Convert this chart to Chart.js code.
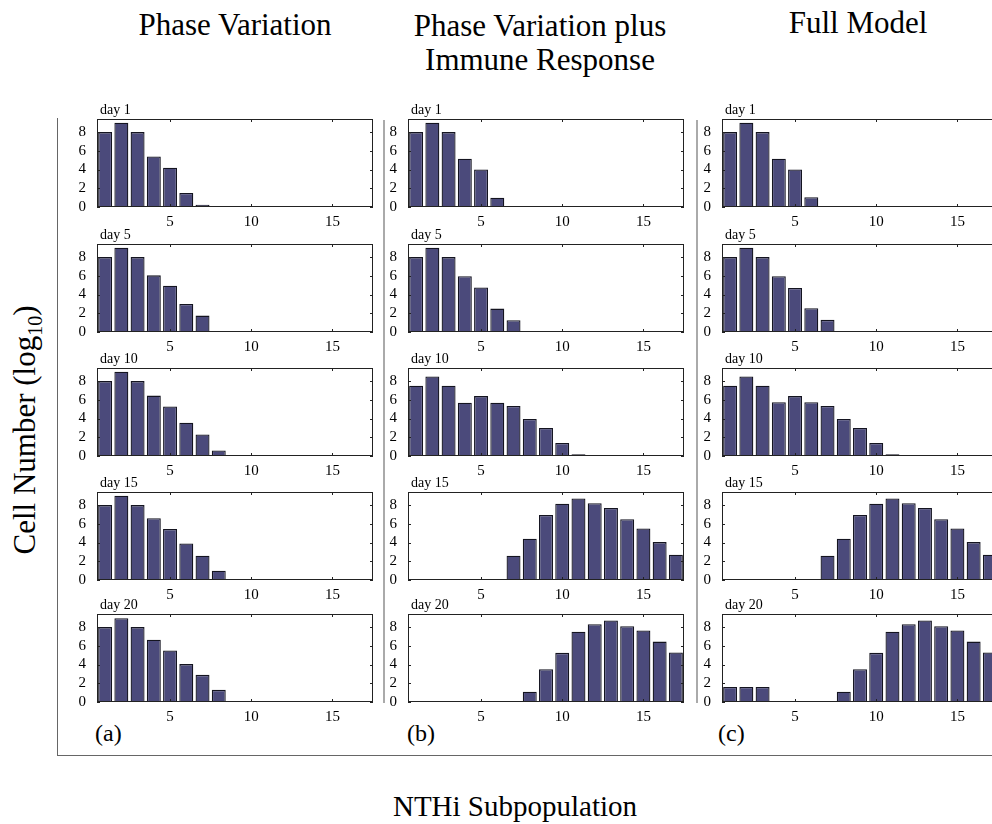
<!DOCTYPE html>
<html>
<head>
<meta charset="utf-8">
<script src="https://cdn.jsdelivr.net/npm/chart.js@4"></script>
<style>
  html, body { margin: 0; padding: 0; background: #fff; overflow: hidden; }
  body { width: 992px; height: 824px; position: relative; font-family: "Liberation Serif", "DejaVu Serif", serif; color: #000; }
  .txt { position: absolute; white-space: nowrap; transform: translateX(-50%); text-align: center; }
  .title { font-size: 31px; line-height: 34px; }
  .tag { position: absolute; font-size: 24px; line-height: 24px; }
  .line { position: absolute; }
  canvas { position: absolute; }
</style>
</head>
<body>
<div class="txt title" style="left:235px; top:8px;">Phase Variation</div>
<div class="txt title" style="left:540px; top:9px;">Phase Variation plus<br>Immune Response</div>
<div class="txt title" style="left:858px; top:6px;">Full Model</div>
<div class="txt title" style="left:515px; top:789px; font-size:29px;">NTHi Subpopulation</div>
<div class="title" style="position:absolute; left:30px; top:430px; white-space:nowrap; transform:translate(-50%,-50%) rotate(-90deg);">Cell Number (log<sub style="font-size:20px;">10</sub>)</div>

<div class="tag" style="left:95px; top:721px;">(a)</div>
<div class="tag" style="left:407px; top:721px;">(b)</div>
<div class="tag" style="left:718px; top:721px;">(c)</div>

<div class="line" style="left:57px; top:118px; width:0; height:637px; border-left:1.5px solid #666;"></div>
<div class="line" style="left:57px; top:755px; width:940px; height:0; border-top:1.5px solid #666;"></div>
<div class="line" style="left:383px; top:120px; width:0; height:583px; border-left:2px solid #aaa;"></div>
<div class="line" style="left:696px; top:120px; width:0; height:583px; border-left:2px solid #aaa;"></div>

<script>
var categories = [1, 2, 3, 4, 5, 6, 7, 8, 9, 10, 11, 12, 13, 14, 15, 16, 17];
var xTickLabels = [5, 10, 15];
var yTickLabels = [0, 2, 4, 6, 8];
var dayLabels = ['day 1', 'day 5', 'day 10', 'day 15', 'day 20'];

// (a) phase variation
var pvDay1  = [8.0, 9.0, 8.0, 5.4, 4.2, 1.5, 0.25, 0, 0, 0, 0, 0, 0, 0, 0, 0, 0];
var pvDay5  = [8.0, 9.0, 8.0, 6.05, 4.95, 3.0, 1.75, 0, 0, 0, 0, 0, 0, 0, 0, 0, 0];
var pvDay10 = [8.0, 9.0, 8.0, 6.45, 5.3, 3.55, 2.3, 0.6, 0, 0, 0, 0, 0, 0, 0, 0, 0];
var pvDay15 = [8.0, 9.0, 8.0, 6.6, 5.45, 3.9, 2.6, 1.0, 0, 0, 0, 0, 0, 0, 0, 0, 0];
var pvDay20 = [8.0, 8.95, 8.0, 6.65, 5.5, 4.05, 2.9, 1.3, 0.07, 0, 0, 0, 0, 0, 0, 0, 0];

// (b) phase variation plus immune response
var imDay1  = [8.0, 9.0, 8.0, 5.15, 4.0, 1.0, 0, 0, 0, 0, 0, 0, 0, 0, 0, 0, 0];
var imDay5  = [8.0, 9.0, 8.0, 5.95, 4.75, 2.5, 1.25, 0, 0, 0, 0, 0, 0, 0, 0, 0, 0];
var imDay10 = [7.5, 8.5, 7.5, 5.7, 6.4, 5.7, 5.35, 3.95, 3.0, 1.4, 0.18, 0, 0, 0, 0, 0, 0];
var imDay15 = [0, 0, 0, 0, 0, 0, 2.6, 4.4, 6.95, 8.15, 8.7, 8.2, 7.7, 6.5, 5.5, 4.05, 2.7];
var imDay20 = [0, 0, 0, 0, 0, 0, 0, 1.1, 3.5, 5.25, 7.5, 8.3, 8.7, 8.1, 7.65, 6.45, 5.3];

// (c) full model
var fmDay1  = [8.0, 9.0, 8.0, 5.15, 4.0, 1.05, 0, 0, 0, 0, 0, 0, 0, 0, 0, 0, 0];
var fmDay5  = [8.0, 9.0, 8.0, 5.95, 4.7, 2.55, 1.3, 0, 0, 0, 0, 0, 0, 0, 0, 0, 0];
var fmDay10 = [7.5, 8.5, 7.5, 5.75, 6.4, 5.75, 5.35, 3.95, 3.0, 1.4, 0.2, 0, 0, 0, 0, 0, 0];
var fmDay15 = [0, 0, 0, 0, 0, 0, 2.6, 4.4, 6.95, 8.15, 8.7, 8.2, 7.7, 6.5, 5.5, 4.05, 2.7];
var fmDay20 = [1.6, 1.6, 1.6, 0, 0, 0, 0, 1.1, 3.5, 5.25, 7.5, 8.3, 8.7, 8.1, 7.65, 6.45, 5.3];

var columns = [
  [pvDay1, pvDay5, pvDay10, pvDay15, pvDay20],
  [imDay1, imDay5, imDay10, imDay15, imDay20],
  [fmDay1, fmDay5, fmDay10, fmDay15, fmDay20]
];

var yMax = 9.4;
var colLeft = [97, 408, 722];
var rowTop = [119, 244, 368, 492, 614];
var plotW = 276, plotH = 88;
var axisW = 30, axisH = 26, padTop = 18, padRight = 3;
var serif = '"Liberation Serif", "DejaVu Serif", serif';

var frameTicks = {
  id: 'frameTicks',
  afterDraw: function (chart, args, opts) {
    var ctx = chart.ctx, a = chart.chartArea, x = chart.scales.x, y = chart.scales.y;
    ctx.save();
    ctx.strokeStyle = '#222';
    ctx.lineWidth = 1;
    ctx.strokeRect(a.left + 0.5, a.top + 0.5, a.right - a.left - 1, a.bottom - a.top - 1);
    ctx.beginPath();
    xTickLabels.forEach(function (t) {
      var px = Math.round(x.getPixelForValue(categories.indexOf(t))) + 0.5;
      ctx.moveTo(px, a.top); ctx.lineTo(px, a.top + 3);
      ctx.moveTo(px, a.bottom); ctx.lineTo(px, a.bottom - 3);
    });
    yTickLabels.forEach(function (t) {
      var py = Math.round(y.getPixelForValue(t)) + 0.5;
      ctx.moveTo(a.left, py); ctx.lineTo(a.left + 3, py);
      ctx.moveTo(a.right, py); ctx.lineTo(a.right - 3, py);
    });
    ctx.stroke();
    ctx.fillStyle = '#000';
    ctx.font = '14px ' + serif;
    ctx.textBaseline = 'alphabetic';
    ctx.fillText(opts.label, a.left + 3, a.top - 5);
    ctx.restore();
  }
};

function makePanel(col, row) {
  var c = document.createElement('canvas');
  var w = axisW + plotW + padRight, h = padTop + plotH + axisH;
  c.width = w; c.height = h;
  c.style.left = (colLeft[col] - axisW) + 'px';
  c.style.top = (rowTop[row] - padTop) + 'px';
  c.style.width = w + 'px'; c.style.height = h + 'px';
  document.body.appendChild(c);

  new Chart(c.getContext('2d'), {
    type: 'bar',
    data: {
      labels: categories,
      datasets: [{
        data: columns[col][row],
        backgroundColor: '#4b4a7b',
        borderColor: '#141420',
        borderWidth: 1.3,
        barPercentage: 0.86,
        categoryPercentage: 1
      }]
    },
    options: {
      responsive: false,
      animation: false,
      devicePixelRatio: 1,
      layout: { padding: { top: padTop, right: padRight, left: 0, bottom: 0 } },
      plugins: { legend: { display: false }, tooltip: { enabled: false }, frameTicks: { label: dayLabels[row] } },
      scales: {
        x: {
          grid: { display: false }, border: { display: false },
          ticks: {
            autoSkip: false, maxRotation: 0, padding: -2, color: '#000', font: { family: serif, size: 15 },
            callback: function (v, i) { var cat = categories[i]; return xTickLabels.indexOf(cat) >= 0 ? String(cat) : null; }
          },
          afterFit: function (s) { s.height = axisH; }
        },
        y: {
          min: 0, max: yMax,
          grid: { display: false }, border: { display: false },
          afterBuildTicks: function (s) { s.ticks = yTickLabels.map(function (v) { return { value: v }; }); },
          ticks: { padding: 3, color: '#000', font: { family: serif, size: 15 } },
          afterFit: function (s) { s.width = axisW; }
        }
      }
    },
    plugins: [frameTicks]
  });
}

function build() {
  for (var col = 0; col < 3; col++) {
    for (var row = 0; row < 5; row++) makePanel(col, row);
  }
}

if (document.fonts && document.fonts.load) {
  Promise.all([document.fonts.load('15px "Liberation Serif"'), document.fonts.load('14px "Liberation Serif"')])
    .then(build, build);
} else {
  build();
}
</script>
</body>
</html>
